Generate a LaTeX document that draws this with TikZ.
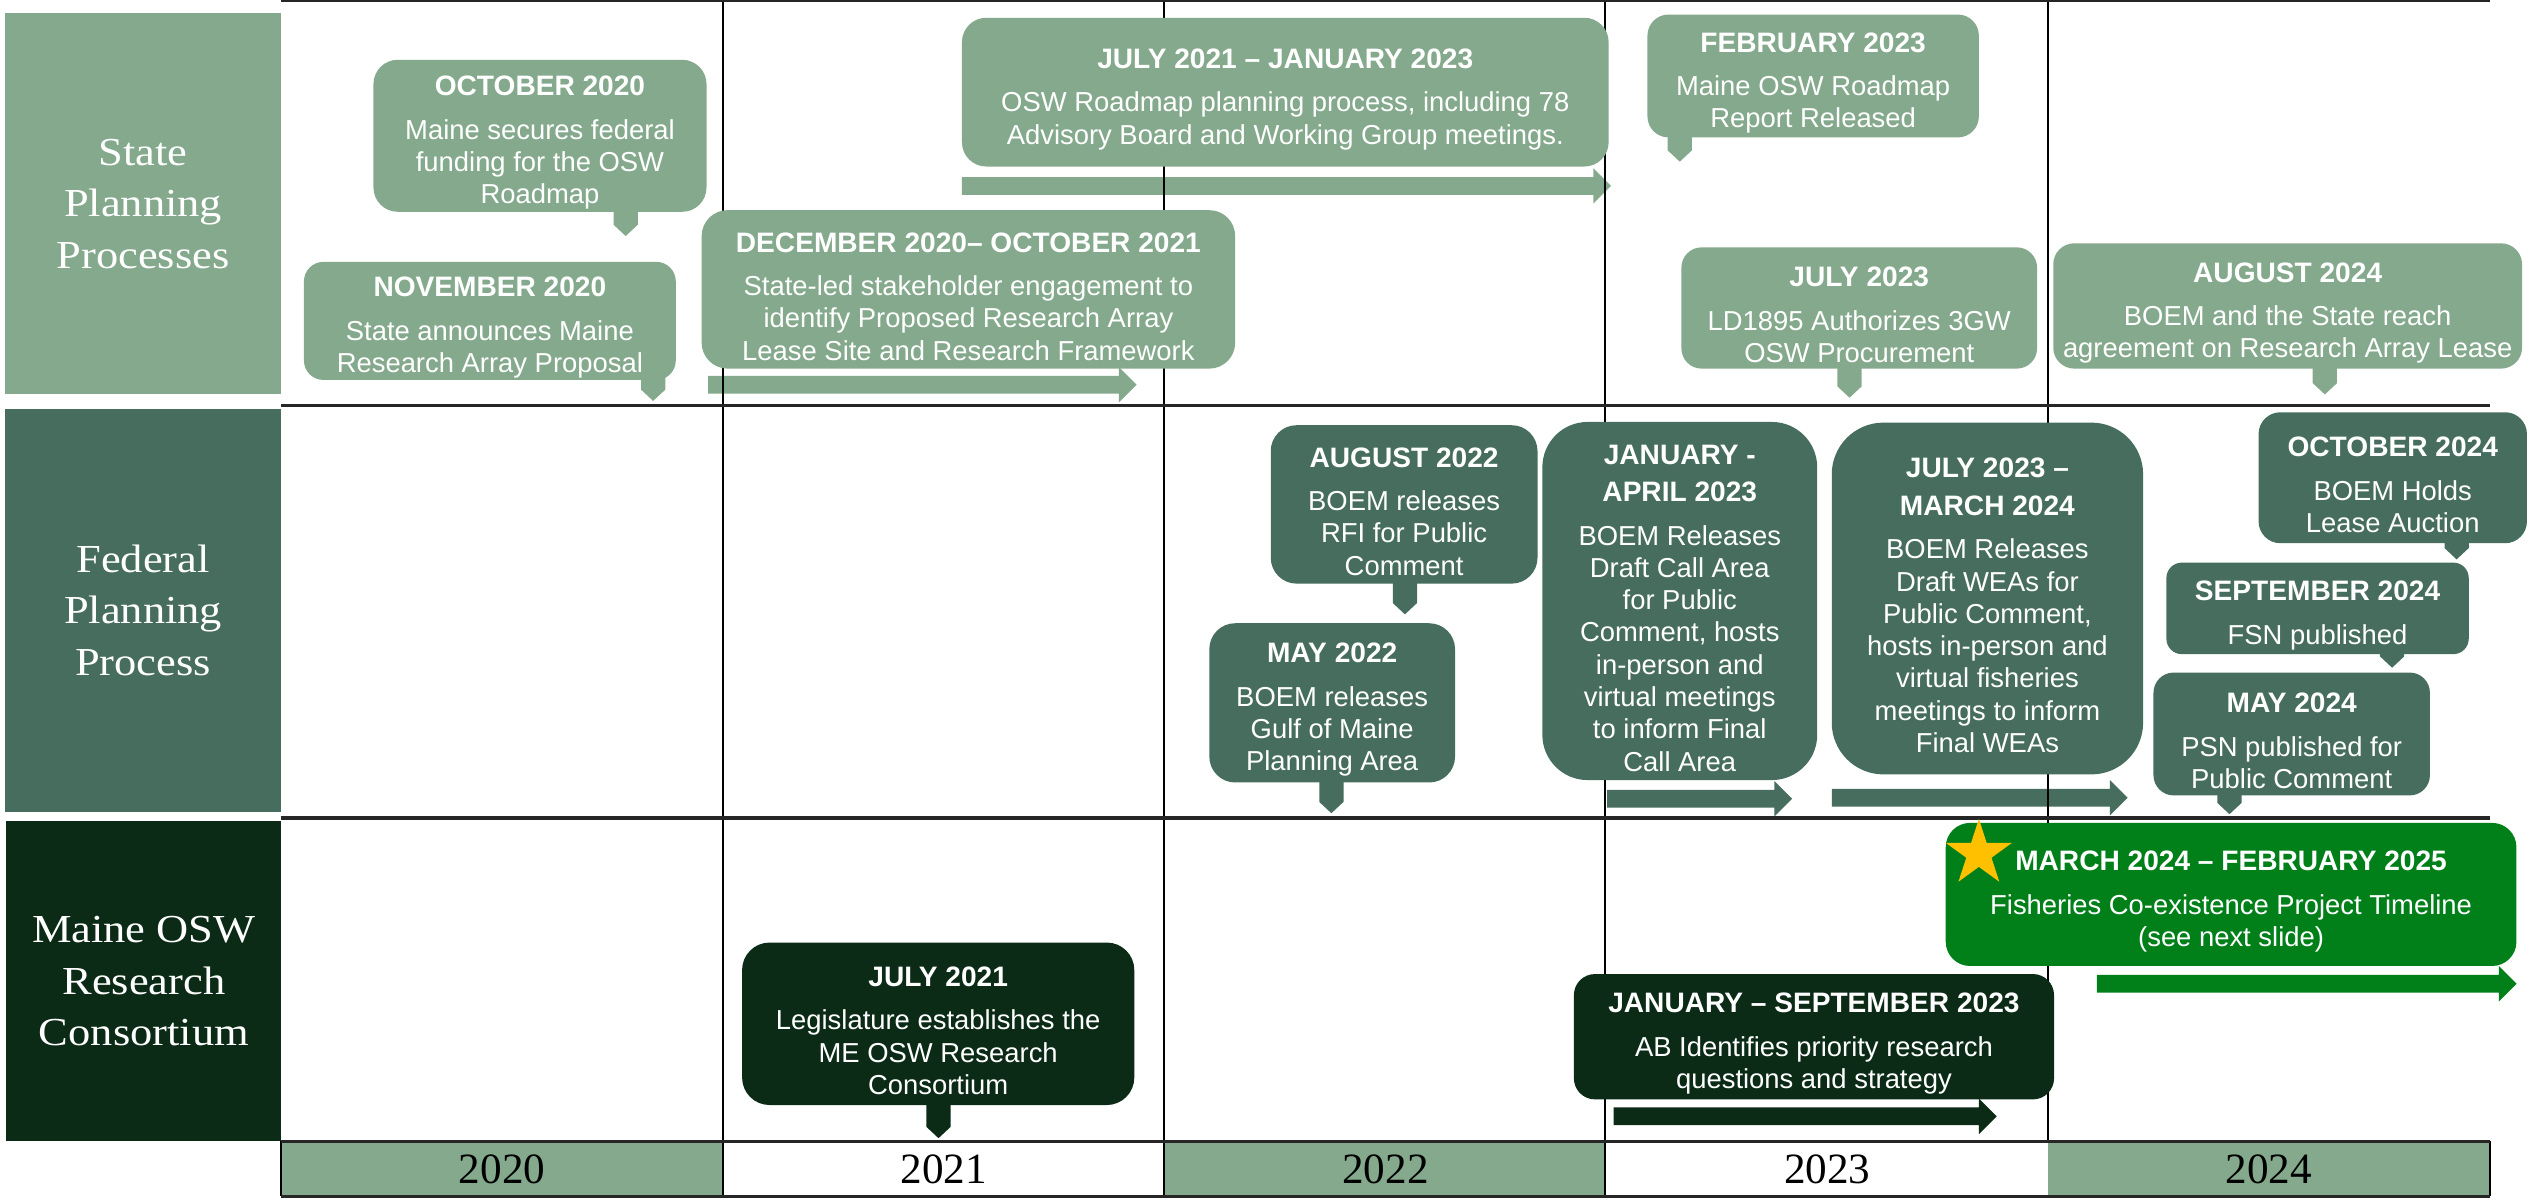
\documentclass[tikz,border=0pt]{standalone}
\usepackage{fontspec}
\setmainfont{Liberation Sans}
\newfontfamily\rowfont[FakeStretch=1.12]{Liberation Serif}
\newfontfamily\yearfont{Liberation Serif}
\usepackage{tikz}
\usetikzlibrary{shapes.geometric}

\definecolor{sage}{HTML}{84A98C}
\definecolor{fedgreen}{HTML}{466D5D}
\definecolor{darkgreen}{HTML}{0B2B16}
\definecolor{brightgreen}{HTML}{01801A}
\definecolor{gold}{HTML}{FFC000}
\definecolor{gridline}{HTML}{262626}

\newcommand{\pxu}{0.016167cm}
\newcommand{\hdb}[1]{{\fontsize{8}{9.2}\selectfont\bfseries #1}}
\newcommand{\hd}[1]{\hdb{\rule{0pt}{9.6pt}#1}}
% tail below a bubble: colour, node, x, tip
\newcommand{\tailat}[4]{\fill[#1] (#3-7.5,0 |- #2.south) ++(0,-3) -- ++(15,0) -- (#3+7.5,#4-7) -- (#3,#4) -- (#3-7.5,#4-7) -- cycle;}
% period bar: colour, start, tip, y
\newcommand{\spanarrow}[4]{\fill[#1] (#2,#4-5.5) -- (#3-11,#4-5.5) -- (#3-11,#4-11) -- (#3,#4) -- (#3-11,#4+11) -- (#3-11,#4+5.5) -- (#2,#4+5.5) -- cycle;}

\begin{document}
\begin{tikzpicture}[x=\pxu, y=-\pxu,
    wh/.style 2 args={minimum width=#1*\pxu, minimum height=#2*\pxu},
    bub/.style={rounded corners=#1*\pxu, inner sep=0pt, text=white, align=center, font=\fontsize{7.8}{9.2}\selectfont},
    rowlabel/.style={inner sep=0pt, text=white, align=center, font=\rowfont\fontsize{11.3}{14.7}\selectfont},
    yearcell/.style={inner sep=0pt, wh={273.2}{34}, font=\yearfont\fontsize{12.3}{14}\selectfont},
    gridthick/.style={gridline, line width=0.9pt},
    gridthin/.style={black, line width=0.6pt}]
    \useasboundingbox (0,0) rectangle (1568,744);
    % years
    \foreach \yr/\cl [count=\k from 0] in {2020/sage,2021/white,2022/sage,2023/white,2024/sage}
        \node[yearcell, fill=\cl] (y\yr) at (310.6+273.2*\k,723) {\yr};
    % period bars
    \spanarrow{sage}{438}{703}{238}
    \spanarrow{sage}{595}{996.5}{115}
    \spanarrow{fedgreen}{994}{1108.5}{494}
    \spanarrow{fedgreen}{1133}{1316}{493.5}
    \spanarrow{darkgreen}{998}{1235}{690.5}
    \spanarrow{brightgreen}{1297}{1556.6}{608.5}
    % table lines
    \foreach \xv in {447,720,993} \draw[gridthin] (\xv,0) -- (\xv,740);
    \draw[gridthin] (1267,0) -- (1267,706) (174,706) -- (174,740) (1540,706) -- (1540,740);
    \foreach \yv in {0.5,251,506,706,740} \draw[gridthick] (174,\yv) -- (1540,\yv);
    % row labels
    \node[rowlabel, fill=sage, wh={171}{236}] (lstate) at (88.5,126) {State\\Planning\\Processes};
    \node[rowlabel, fill=fedgreen, wh={171}{249}] (lfed) at (88.5,377.5) {Federal\\Planning\\Process};
    \node[rowlabel, fill=darkgreen, wh={170}{198}] (lcons) at (89,607) {Maine OSW\\Research\\Consortium};
    % state row
    \node[bub=15, fill=sage, wh={206}{94}] (oct20) at (334,84) {\hd{OCTOBER 2020}\\[3.2pt]Maine secures federal\\funding for the OSW\\Roadmap};
    \node[bub=12, fill=sage, wh={230}{73}] (nov20) at (303,198.5) {\hd{NOVEMBER 2020}\\[3.2pt]State announces Maine\\Research Array Proposal};
    \node[bub=16, fill=sage, wh={330}{98}] (dec20) at (599,179) {\hd{DECEMBER 2020– OCTOBER 2021}\\[3.2pt]State-led stakeholder engagement to\\identify Proposed Research Array\\Lease Site and Research Framework};
    \node[bub=15, fill=sage, wh={400}{92}] (jul21) at (795,57) {\hd{JULY 2021 – JANUARY 2023}\\[3.2pt]OSW Roadmap planning process, including 78\\Advisory Board and Working Group meetings.};
    \node[bub=13, fill=sage, wh={205}{76}] (feb23) at (1121.5,47) {\hd{FEBRUARY 2023}\\[3.2pt]Maine OSW Roadmap\\Report Released};
    \node[bub=12.5, fill=sage, wh={220}{75}] (jul23) at (1150,190.5) {\hd{JULY 2023}\\[3.2pt]LD1895 Authorizes 3GW\\OSW Procurement};
    \node[bub=13, fill=sage, wh={290}{77.5}] (aug24) at (1415,189.25) {\hd{AUGUST 2024}\\[3.2pt]BOEM and the State reach\\agreement on Research Array Lease};
    \tailat{sage}{oct20}{387}{146}
    \tailat{sage}{nov20}{404}{248}
    \tailat{sage}{feb23}{1039}{100}
    \tailat{sage}{jul23}{1144}{246}
    \tailat{sage}{aug24}{1438}{244}
    % federal row
    \node[bub=16, fill=fedgreen, wh={165}{98}] (aug22) at (868.5,312) {\hd{AUGUST 2022}\\[3.2pt]BOEM releases\\RFI for Public\\Comment};
    \node[bub=16, fill=fedgreen, wh={152}{98.5}] (may22) at (824,434.75) {\hd{MAY 2022}\\[3.2pt]BOEM releases\\Gulf of Maine\\Planning Area};
    \node[bub=28, fill=fedgreen, wh={170}{221.5}] (janapr23) at (1039,371.75) {\hd{JANUARY -}\\[1.4pt]\hdb{APRIL 2023}\\[3.2pt]BOEM Releases\\Draft Call Area\\for Public\\Comment, hosts\\in-person and\\virtual meetings\\to inform Final\\Call Area};
    \node[bub=32, fill=fedgreen, wh={192.6}{217.6}] (jul23mar24) at (1229.3,370.2) {\hd{JULY 2023 –}\\[1.4pt]\hdb{MARCH 2024}\\[3.2pt]BOEM Releases\\Draft WEAs for\\Public Comment,\\hosts in-person and\\virtual fisheries\\meetings to inform\\Final WEAs};
    \node[bub=13.5, fill=fedgreen, wh={166}{81}] (oct24) at (1480,295.5) {\hd{OCTOBER 2024}\\[3.2pt]BOEM Holds\\Lease Auction};
    \node[bub=9.5, fill=fedgreen, wh={187}{56.6}] (sep24) at (1433.5,376.3) {\hd{SEPTEMBER 2024}\\[3.2pt]FSN published};
    \node[bub=12.5, fill=fedgreen, wh={171}{76}] (may24) at (1417.5,454) {\hd{MAY 2024}\\[3.2pt]PSN published for\\Public Comment};
    \tailat{fedgreen}{aug22}{869}{380}
    \tailat{fedgreen}{may22}{823.5}{503}
    \tailat{fedgreen}{oct24}{1519.5}{346}
    \tailat{fedgreen}{sep24}{1479.6}{413}
    \tailat{fedgreen}{may24}{1379}{503.6}
    % consortium row
    \node[bub=17, fill=darkgreen, wh={242.6}{100.5}] (jul21me) at (580.3,633.25) {\hd{JULY 2021}\\[3.2pt]Legislature establishes the\\ME OSW Research\\Consortium};
    \node[bub=13, fill=darkgreen, wh={297}{77.5}] (jansep23) at (1122,641.25) {\hd{JANUARY – SEPTEMBER 2023}\\[3.2pt]AB Identifies priority research\\questions and strategy};
    \node[bub=15, fill=brightgreen, wh={353}{88.5}] (mar24) at (1380,553.25) {\hd{MARCH 2024 – FEBRUARY 2025}\\[3.2pt]Fisheries Co-existence Project Timeline\\(see next slide)};
    \tailat{darkgreen}{jul21me}{580.5}{704}
    \node[star, star points=5, star point ratio=2.62, fill=gold, inner sep=0pt, minimum size=43*\pxu] (mstar) at (1224,528) {};
\end{tikzpicture}
\end{document}
